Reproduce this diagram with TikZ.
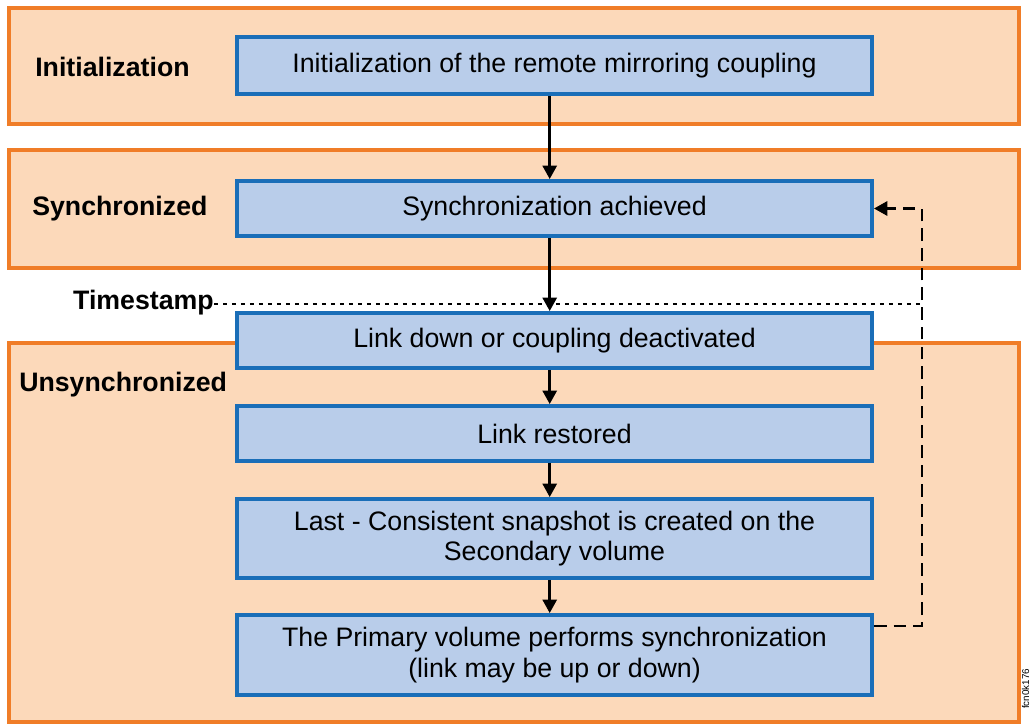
\documentclass[tikz,border=0pt]{standalone}
\usepackage{fontspec}
\setmainfont{Liberation Sans}
\usetikzlibrary{arrows.meta}
\definecolor{zoneline}{RGB}{240,125,40}
\definecolor{zonefill}{RGB}{252,217,186}
\definecolor{stepline}{RGB}{26,110,184}
\definecolor{stepfill}{RGB}{185,205,234}
\tikzset{
  zone/.style={draw=zoneline,fill=zonefill,line width=3.5pt,minimum width=25.25cm,inner sep=0pt},
  stepbox/.style={draw=stepline,fill=stepfill,line width=2.8pt,minimum width=15.875cm,inner sep=0pt,align=center,
    font=\fontsize{19}{21.5}\selectfont},
  zonelabel/.style={font=\fontsize{19}{22}\selectfont\bfseries,anchor=west,inner sep=0pt},
  flow/.style={-{Triangle[length=9.5pt,width=10pt]},line width=1.8pt},
}
\begin{document}
\begin{tikzpicture}
		\def\cx{13.8625}
		\def\zx{12.85}
		\def\ax{-0.12cm}
		\useasboundingbox (0,0) rectangle (25.775,18.175);
		% zonas
		\node[zone,minimum height=2.9cm] (initzone) at (\zx,16.525) {};
		\node[zone,minimum height=2.95cm] (synczone) at (\zx,12.95) {};
		\node[zone,minimum height=9.475cm] (unsynczone) at (\zx,4.8625) {};
		\node[zonelabel] (initlbl) at (0.875,16.5) {Initialization};
		\node[zonelabel] (synclbl) at (0.8,12.95) {Synchronized};
		\node[zonelabel] (unsynclbl) at (0.475,8.55) {Unsynchronized};
		% pasos
		\node[stepbox,minimum height=1.425cm] (init) at (\cx,16.5375) {Initialization of the remote mirroring coupling};
		\node[stepbox,minimum height=1.375cm] (sync) at (\cx,12.9625) {Synchronization achieved};
		\node[stepbox,minimum height=1.375cm] (down) at (\cx,9.6625) {Link down or coupling deactivated};
		\node[stepbox,minimum height=1.375cm] (restored) at (\cx,7.3375) {Link restored};
		\node[stepbox,minimum height=1.975cm] (snap) at (\cx,4.7125) {Last - Consistent snapshot is created on the\\Secondary volume};
		\node[stepbox,minimum height=2.0cm] (prim) at (\cx,1.8) {The Primary volume performs synchronization\\(link may be up or down)};
		% timestamp
		\node[zonelabel,anchor=east] (ts) at (5.35,10.6) {Timestamp};
		\coordinate (tsend) at (23.05,10.575);
		\draw[line width=1.9pt,dash pattern=on 2.8pt off 3.6pt] (ts.east |- tsend) -- (tsend);
		% flechas
		\draw[flow] ([xshift=\ax]init.south) -- ([xshift=\ax]sync.north);
		\draw[flow] ([xshift=\ax]sync.south) -- ([xshift=\ax]down.north);
		\draw[flow] ([xshift=\ax]down.south) -- ([xshift=\ax]restored.north);
		\draw[flow] ([xshift=\ax]restored.south) -- ([xshift=\ax]snap.north);
		\draw[flow] ([xshift=\ax]snap.south) -- ([xshift=\ax]prim.north);
		\draw[flow,line width=2pt,dash pattern=on 9pt off 5pt] ([yshift=-0.325cm]prim.north east) -| (tsend) |- (sync.east);
		\node[rotate=90,font=\fontsize{7}{8}\selectfont,inner sep=0pt] (figid) at (25.64,0.95) {fcn0k176};
\end{tikzpicture}
\end{document}
